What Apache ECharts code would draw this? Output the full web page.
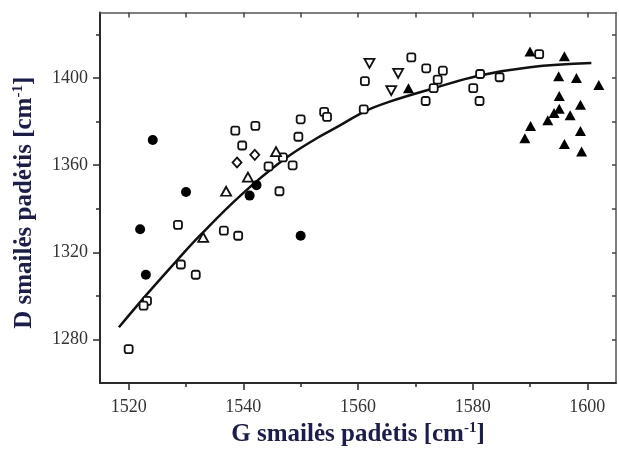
<!DOCTYPE html>
<html>
<head>
<meta charset="utf-8">
<script src="https://cdn.jsdelivr.net/npm/echarts@6/dist/echarts.min.js"></script>
<style>
  html, body { margin: 0; padding: 0; background: #fff; }
  #chart { width: 619px; height: 452px; }
</style>
</head>
<body>
<div id="chart"></div>
<script>
// Measured D-band vs G-band peak positions, grouped by sample type
const filledCircles = [
  [1524.2, 1371.5], [1530.0, 1347.7], [1522.0, 1330.6], [1523.0, 1309.7],
  [1541.1, 1346.0], [1542.3, 1350.8], [1550.0, 1327.6]
];
const openSquares = [
  [1538.6, 1375.8], [1542.1, 1378.0], [1539.8, 1369.0], [1550.0, 1381.0],
  [1549.6, 1373.0], [1554.1, 1384.4], [1554.6, 1382.1], [1544.4, 1359.4],
  [1548.6, 1359.9], [1546.3, 1348.0], [1546.9, 1363.5],
  [1561.2, 1398.5], [1561.0, 1385.6], [1569.3, 1409.4], [1571.9, 1404.4],
  [1574.8, 1403.3], [1573.9, 1399.2], [1573.2, 1395.3], [1571.8, 1389.4],
  [1580.1, 1395.3], [1581.2, 1389.4], [1581.3, 1401.8], [1584.7, 1400.3],
  [1591.6, 1410.9],
  [1528.6, 1332.6], [1536.6, 1329.9], [1539.1, 1327.6], [1529.1, 1314.4],
  [1531.7, 1309.7], [1523.2, 1297.7], [1522.6, 1295.5], [1520.0, 1275.6]
];
const openDiamonds = [[1542.0, 1364.7], [1538.9, 1361.2]];
const openTriangles = [[1540.8, 1354.5], [1537.0, 1348.0], [1533.0, 1326.8], [1545.7, 1366.2]];
const openDownTriangles = [[1562.0, 1406.7], [1567.0, 1402.1], [1565.8, 1394.2]];
const filledTriangles = [
  [1568.8, 1395.3], [1590.0, 1412.1], [1596.0, 1409.9], [1595.0, 1400.8],
  [1598.1, 1400.0], [1602.0, 1396.8], [1595.1, 1391.7], [1598.8, 1387.7],
  [1595.1, 1385.9], [1594.2, 1383.9], [1597.0, 1382.9], [1593.1, 1380.6],
  [1590.1, 1377.9], [1598.8, 1375.6], [1589.1, 1372.3], [1596.0, 1369.7],
  [1599.0, 1366.2]
];
// Trend curve through the data
const trendCurve = [
  [1518.3, 1285.6], [1523.2, 1300.8], [1528.4, 1316.2], [1532.4, 1327.6],
  [1539.4, 1345.8], [1547.0, 1362.4], [1552.8, 1372.3], [1556.7, 1378.0],
  [1561.3, 1384.8], [1565.4, 1389.0], [1572.9, 1395.0], [1581.0, 1401.0],
  [1590.0, 1404.9], [1600.7, 1406.8]
];

// Tick positions
const xMajorTicks = [1520, 1540, 1560, 1580, 1600];
const xMinorTicks = [1530, 1550, 1570, 1590];
const xTopTicks = [1520, 1530, 1540, 1550, 1560, 1570, 1580, 1590, 1600];
const yMajorTicks = [1280, 1320, 1360, 1400];
const yMinorTicks = [1300, 1340, 1380, 1420];
const yRightTicks = [1280, 1300, 1320, 1340, 1360, 1380, 1400, 1420];

const xRange = [1515, 1605];
const yRange = [1260, 1430];

const serif = '"Liberation Serif", "DejaVu Serif", serif';
const axisColor = '#2a2a2a';
const titleColor = '#1b1c4f';

function plainAxis(extra) {
  return Object.assign({
    type: 'value',
    splitLine: { show: false },
    axisLine: { show: false },
    axisLabel: { show: false },
    axisTick: { show: false }
  }, extra);
}

const titleRich = {
  a: { fontFamily: serif, fontWeight: 'bold', fontSize: 25, color: titleColor },
  s: { fontFamily: serif, fontWeight: 'bold', fontSize: 15, color: titleColor, verticalAlign: 'top', padding: [0, 0, 12, 0] }
};

const chart = echarts.init(document.getElementById('chart'), null, { renderer: 'canvas' });

const openStyle = { color: '#fff', borderColor: '#111', borderWidth: 1.8, opacity: 1 };
const solidStyle = { color: '#000', opacity: 1 };
const plainNumber = v => String(v);

chart.setOption({
  animation: false,
  backgroundColor: '#fff',
  grid: { left: 100, right: 3, top: 12.5, bottom: 63.7, containLabel: false },
  xAxis: [
    plainAxis({
      position: 'bottom', min: xRange[0], max: xRange[1],
      axisLine: { show: true, onZero: false, lineStyle: { color: axisColor, width: 2 } },
      axisTick: { show: true, inside: false, length: 7, customValues: xMajorTicks, lineStyle: { color: axisColor, width: 1.5 } },
      axisLabel: { show: true, customValues: xMajorTicks, formatter: plainNumber, margin: 15, color: '#333', fontFamily: serif, fontSize: 18 },
      name: '{a|G smailės padėtis [cm}{s|-1}{a|]}',
      nameLocation: 'middle', nameGap: 37,
      nameTextStyle: { rich: titleRich }
    }),
    plainAxis({
      position: 'bottom', min: xRange[0], max: xRange[1],
      axisTick: { show: true, inside: false, length: 4, customValues: xMinorTicks, lineStyle: { color: axisColor, width: 1.5 } }
    }),
    plainAxis({
      position: 'top', min: xRange[0], max: xRange[1],
      axisLine: { show: true, onZero: false, lineStyle: { color: '#555', width: 1.5 } },
      axisTick: { show: true, inside: true, length: 5, customValues: xTopTicks, lineStyle: { color: '#444', width: 1.5 } }
    })
  ],
  yAxis: [
    plainAxis({
      position: 'left', min: yRange[0], max: yRange[1],
      axisLine: { show: true, onZero: false, lineStyle: { color: axisColor, width: 2 } },
      axisTick: { show: true, inside: false, length: 7, customValues: yMajorTicks, lineStyle: { color: axisColor, width: 1.5 } },
      axisLabel: { show: true, customValues: yMajorTicks, formatter: plainNumber, margin: 12, color: '#333', fontFamily: serif, fontSize: 18 },
      name: '{a|D smailės padėtis [cm}{s|-1}{a|]}',
      nameLocation: 'middle', nameGap: 62, nameRotate: 90,
      nameTextStyle: { rich: titleRich, padding: [0, 10, 0, 0] }
    }),
    plainAxis({
      position: 'left', min: yRange[0], max: yRange[1],
      axisTick: { show: true, inside: false, length: 4, customValues: yMinorTicks, lineStyle: { color: axisColor, width: 1.5 } }
    }),
    plainAxis({
      position: 'right', min: yRange[0], max: yRange[1],
      axisLine: { show: true, onZero: false, lineStyle: { color: '#555', width: 1.5 } },
      axisTick: { show: true, inside: true, length: 4, customValues: yRightTicks, lineStyle: { color: '#444', width: 1.5 } }
    })
  ],
  series: [
    {
      type: 'line', data: trendCurve, smooth: 0.4, symbol: 'none',
      lineStyle: { color: '#111', width: 2.5 }, z: 1
    },
    { type: 'scatter', data: openSquares, symbol: 'roundRect', symbolSize: 8, itemStyle: openStyle, z: 3 },
    { type: 'scatter', data: openDiamonds, symbol: 'diamond', symbolSize: [9, 10], itemStyle: openStyle, z: 3 },
    { type: 'scatter', data: openTriangles, symbol: 'triangle', symbolSize: [10, 9], itemStyle: openStyle, z: 3 },
    { type: 'scatter', data: openDownTriangles, symbol: 'triangle', symbolRotate: 180, symbolSize: [10, 9], itemStyle: openStyle, z: 3 },
    { type: 'scatter', data: filledCircles, symbol: 'circle', symbolSize: 10, itemStyle: solidStyle, z: 4 },
    { type: 'scatter', data: filledTriangles, symbol: 'triangle', symbolSize: [11, 10], itemStyle: solidStyle, z: 4 }
  ]
});
</script>
</body>
</html>
